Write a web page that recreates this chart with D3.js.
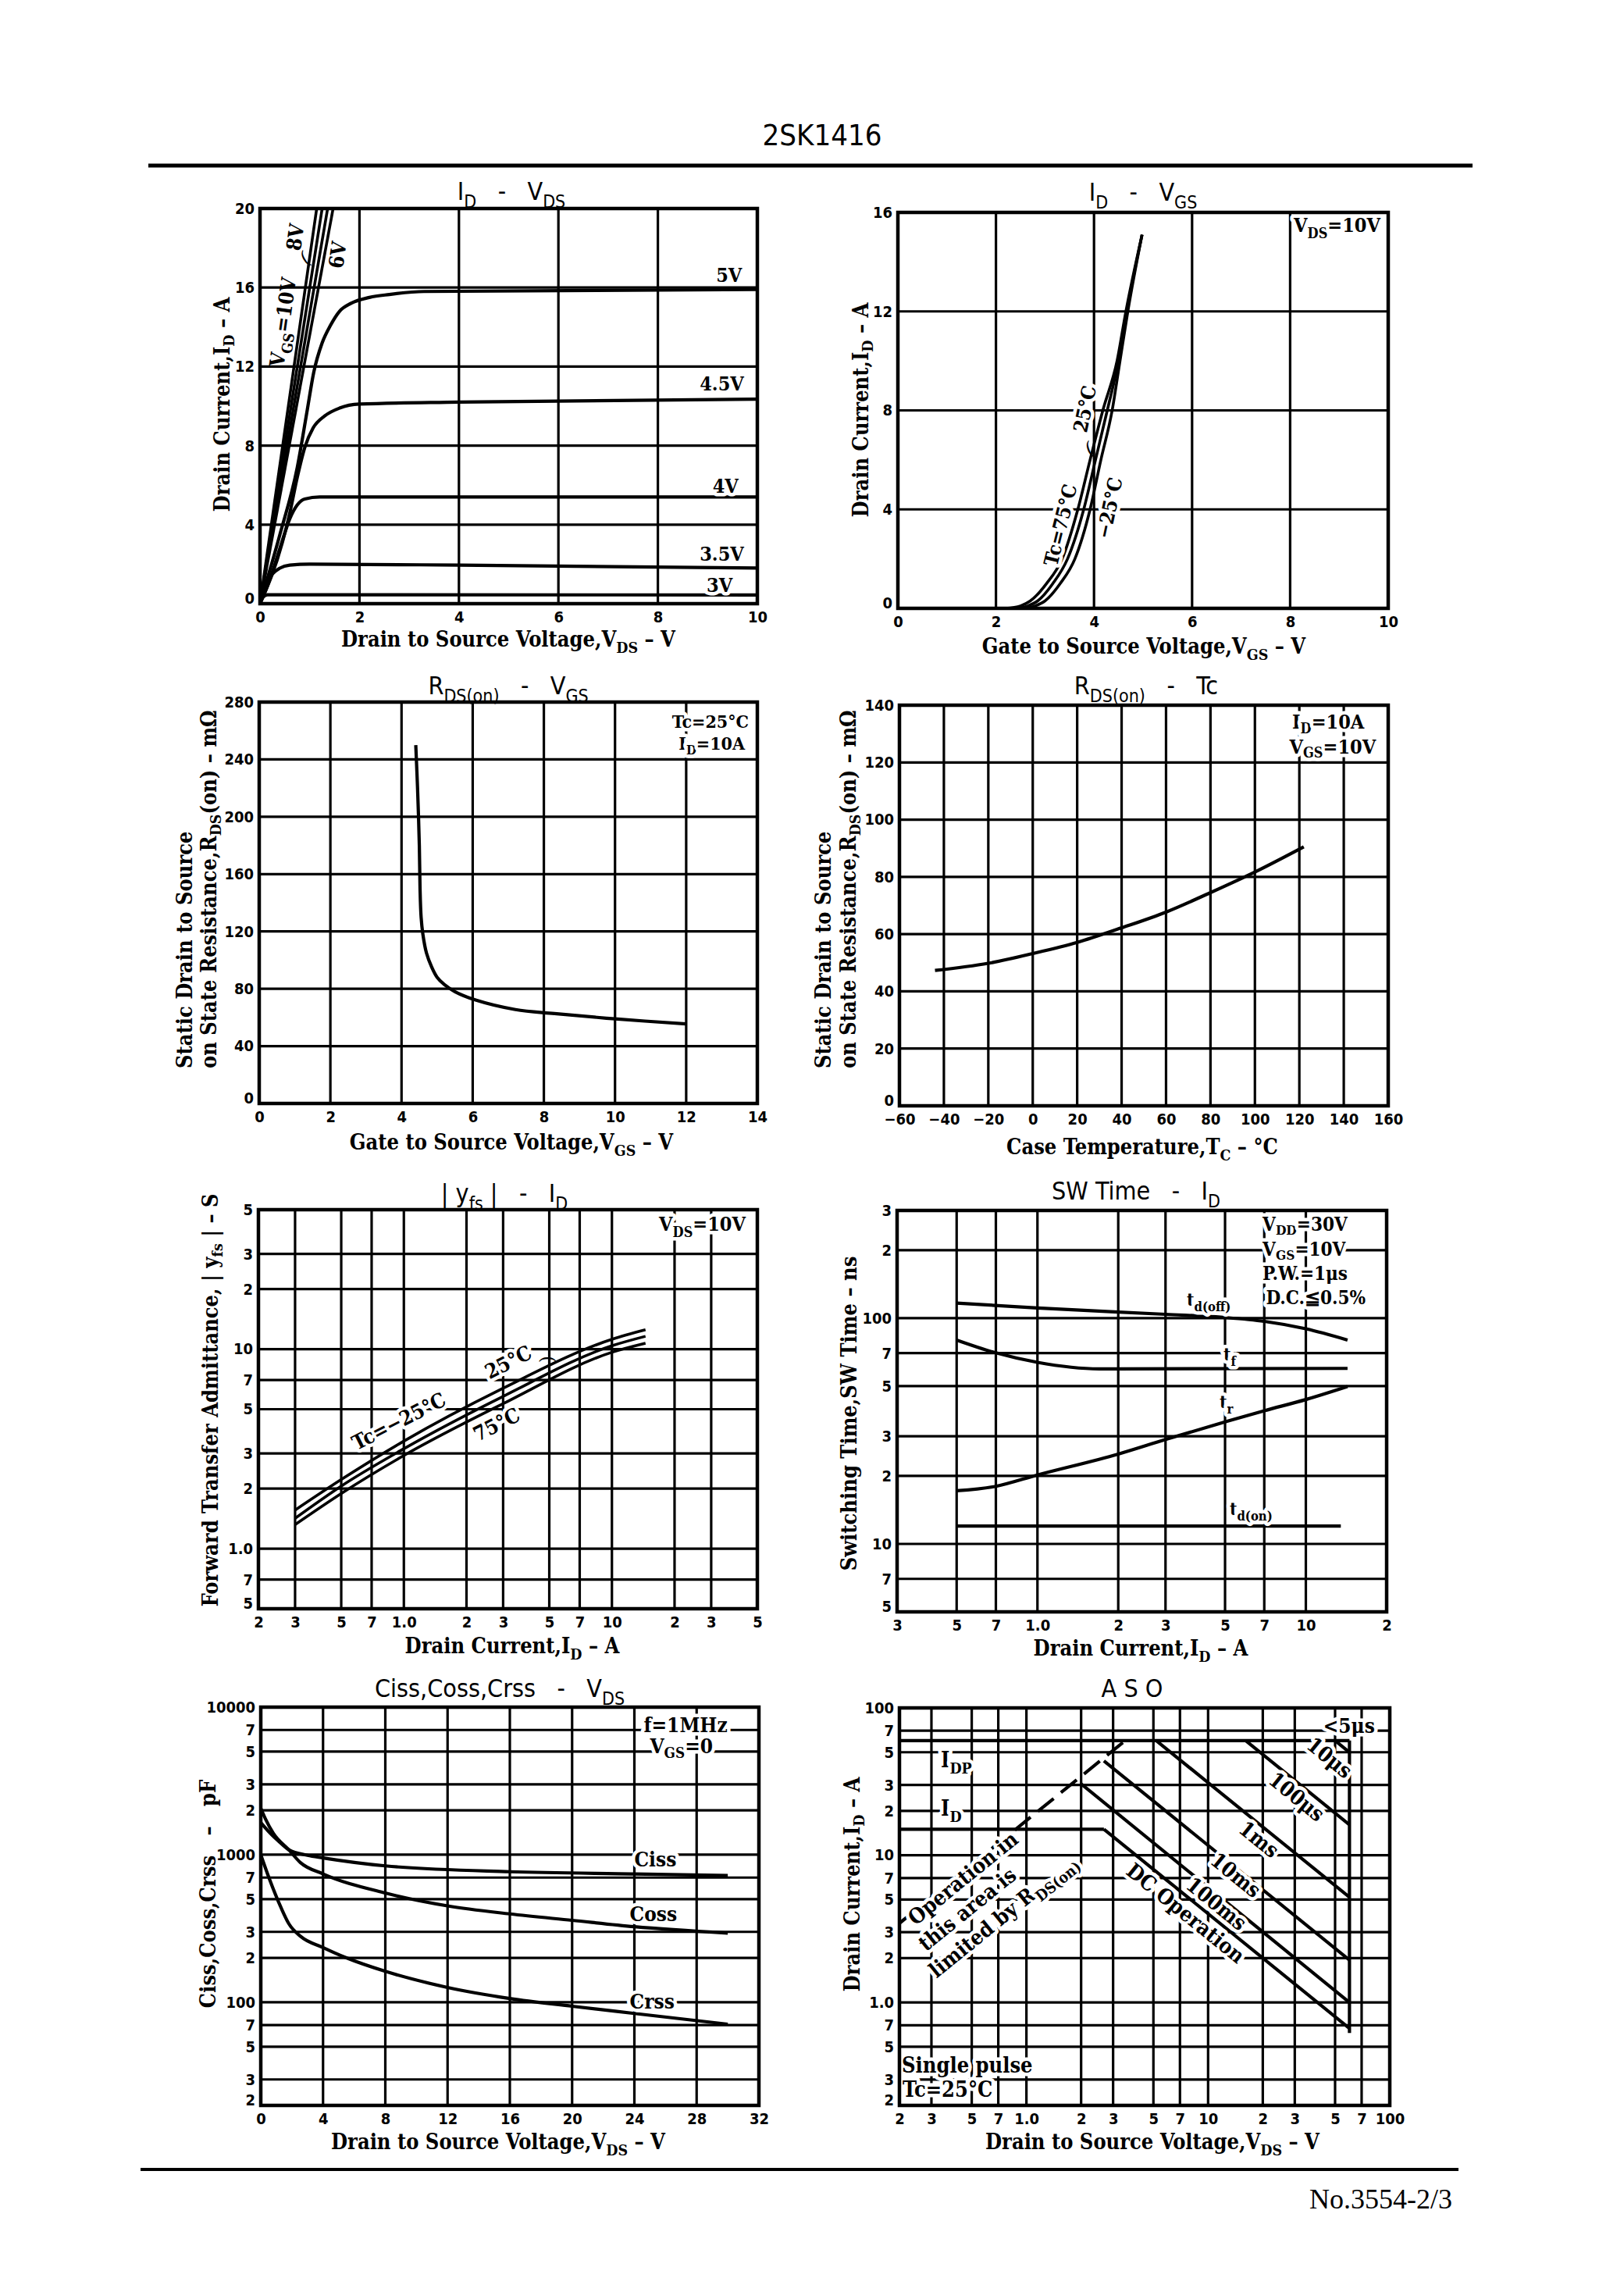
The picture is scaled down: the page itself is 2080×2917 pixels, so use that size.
<!DOCTYPE html>
<html>
<head>
<meta charset="utf-8">
<script src="https://cdn.jsdelivr.net/npm/d3@7"></script>
<style>
  body { margin: 0; background: #fff; }
  svg { display: block; }
  text { white-space: pre; }
</style>
</head>
<body>
<script>
// ---------- data ----------

// I_D - V_DS  (x: V_DS in V, y: I_D in A)
const c1XTicks = [0, 2, 4, 6, 8, 10];
const c1YTicks = [0, 4, 8, 12, 16, 20];
const vgs3V = [[0, 0], [0.05, 0.3], [0.15, 0.45], [1, 0.45], [10, 0.44]];
const vgs35V = [[0, 0], [0.1, 0.8], [0.25, 1.5], [0.4, 1.8], [0.6, 1.95], [1, 2.0], [4, 1.95], [10, 1.8]];
const vgs4V = [[0, 0], [0.15, 0.9], [0.3, 2], [0.45, 3.2], [0.6, 4.3], [0.75, 5.0], [0.9, 5.3], [1.2, 5.4], [10, 5.4]];
const vgs45V = [[0, 0], [0.45, 3.1], [0.6, 4.6], [0.75, 6.4], [0.9, 7.9], [1.07, 8.9], [1.3, 9.5], [1.6, 9.9], [2, 10.1], [4, 10.2], [10, 10.35]];
const vgs5V = [[0, 0], [0.4, 3.5], [0.75, 6.9], [0.95, 9.8], [1.08, 11.7], [1.25, 13.2], [1.42, 14.1], [1.6, 14.8], [1.83, 15.2], [2.2, 15.5], [2.6, 15.65], [3.3, 15.8], [10, 15.9]];
const vgsSteep = [
  [[0, 0], [1.14, 20]],   // 10V
  [[0, 0], [1.25, 20]],   // 8V
  [[0, 0], [1.36, 20]],
  [[0, 0], [1.47, 20]]    // 6V
];

// I_D - V_GS
const c2XTicks = [0, 2, 4, 6, 8, 10];
const c2YTicks = [0, 4, 8, 12, 16];
const tc75 = [[2.2, 0], [2.5, 0.1], [2.7, 0.3], [3.03, 1], [3.35, 2], [3.67, 4], [3.92, 6], [4.18, 8], [4.47, 10], [4.65, 12], [4.98, 15.1]];
const tc25 = [[2.4, 0], [2.65, 0.1], [2.85, 0.3], [3.16, 1], [3.46, 2], [3.79, 4], [4.03, 6], [4.27, 8], [4.5, 10], [4.67, 12], [4.98, 15.1]];
const tcM25 = [[2.6, 0], [2.8, 0.1], [3.0, 0.3], [3.31, 1], [3.61, 2], [3.92, 4], [4.14, 6], [4.37, 8], [4.53, 10], [4.69, 12], [4.98, 15.1]];

// R_DS(on) - V_GS  (mOhm)
const c3XTicks = [0, 2, 4, 6, 8, 10, 12, 14];
const c3YTicks = [0, 40, 80, 120, 160, 200, 240, 280];
const rdsVgs = [[4.4, 250], [4.45, 220], [4.5, 180], [4.52, 150], [4.55, 130], [4.6, 118], [4.7, 105], [4.85, 95], [5.0, 88], [5.2, 83], [5.5, 78], [6.1, 72], [7.2, 65.5], [8.3, 62.7], [10, 59], [12, 55.5]];

// R_DS(on) - Tc
const c4XTicks = [-60, -40, -20, 0, 20, 40, 60, 80, 100, 120, 140, 160];
const c4XLabels = ["\u221260", "\u221240", "\u221220", "0", "20", "40", "60", "80", "100", "120", "140", "160"];
const c4YTicks = [0, 20, 40, 60, 80, 100, 120, 140];
const rdsTc = [[-44, 47.3], [-20, 49.8], [0, 53.2], [20, 57.1], [40, 62.2], [60, 67.7], [80, 74.5], [100, 81.7], [122, 90.5]];

// |yfs| - I_D  (log-log)
const c5XTicks = [0.2, 0.3, 0.5, 0.7, 1, 2, 3, 5, 7, 10, 20, 30, 50];
const c5XLabels = ["2", "3", "5", "7", "1.0", "2", "3", "5", "7", "10", "2", "3", "5"];
const c5YTicks = [0.5, 0.7, 1, 2, 3, 5, 7, 10, 20, 30, 50];
const c5YLabels = ["5", "7", "1.0", "2", "3", "5", "7", "10", "2", "3", "5"];
const yfsM25 = [[0.3, 1.56], [0.5, 2.22], [1, 3.46], [3, 6.37], [10, 11.2], [14.5, 12.5]];
const yfs25 = [[0.3, 1.42], [0.5, 2.06], [1, 3.17], [3, 5.8], [10, 10.4], [14.5, 11.6]];
const yfs75 = [[0.3, 1.32], [0.5, 1.89], [1, 2.93], [3, 5.33], [10, 9.64], [14.5, 10.7]];

// SW time - I_D  (ns)
const c6XTicks = [0.3, 0.5, 0.7, 1, 2, 3, 5, 7, 10, 20];
const c6XLabels = ["3", "5", "7", "1.0", "2", "3", "5", "7", "10", "2"];
const c6YTicks = [5, 7, 10, 20, 30, 50, 70, 100, 200, 300];
const c6YLabels = ["5", "7", "10", "2", "3", "5", "7", "100", "2", "3"];
const tdOff = [[0.5, 116.6], [1, 111], [3, 104], [5, 100.7], [7, 96.8], [10, 89.7], [14.3, 80]];
const tFall = [[0.5, 80], [0.7, 70.2], [1, 63.7], [1.7, 59.6], [14.3, 59.9]];
const tRise = [[0.5, 17.2], [0.7, 18], [1, 20.2], [2, 25], [3, 29], [5, 34.7], [7, 38.9], [10, 43.6], [14.3, 49.8]];
const tdOn = [[0.5, 12], [13.5, 12]];

// Ciss, Coss, Crss - V_DS  (pF)
const c7XTicks = [0, 4, 8, 12, 16, 20, 24, 28, 32];
const c7YTicks = [20, 30, 50, 70, 100, 200, 300, 500, 700, 1000, 2000, 3000, 5000, 7000, 10000];
const c7YLabels = ["2", "3", "5", "7", "100", "2", "3", "5", "7", "1000", "2", "3", "5", "7", "10000"];
const ciss = [[0, 1650], [0.6, 1400], [1.2, 1220], [1.8, 1080], [3, 990], [4, 951], [8, 840], [16, 767], [24, 741], [30, 723]];
const coss = [[0, 2065], [0.3, 1750], [0.8, 1400], [1.8, 1080], [2.55, 883], [4, 741], [8, 550], [12, 450], [16, 397], [20, 359], [24, 325], [30, 294]];
const crss = [[0, 1000], [0.55, 687], [1.3, 438], [1.8, 341], [2.55, 280], [4, 235], [5.5, 200], [8, 162], [12, 126], [16, 106], [20, 94], [24, 84], [30, 71]];

// ASO  (log-log)
const c8Ticks = [0.2, 0.3, 0.5, 0.7, 1, 2, 3, 5, 7, 10, 20, 30, 50, 70, 100];
const c8XLabels = ["2", "3", "5", "7", "1.0", "2", "3", "5", "7", "10", "2", "3", "5", "7", "100"];
const c8YLabels = ["2", "3", "5", "7", "1.0", "2", "3", "5", "7", "10", "2", "3", "5", "7", "100"];
const asoIdp = [[0.2, 60], [60, 60]];
const asoId = [[0.2, 15], [2.67, 15]];
const asoVdss = [[60, 60], [60, 0.62]];
const asoDC = [[2.67, 15], [60, 0.667]];
const aso100ms = [[1.98, 30.8], [60, 1.0]];
const aso10ms = [[2.67, 43.7], [60, 1.94]];
const aso1ms = [[5.18, 60], [60, 5.18]];
const aso100us = [[16.1, 60], [60, 16.1]];
const aso10us = [[50, 60], [60, 50]];
const asoRds = [[0.2, 3.45], [3.5, 60]];

// ---------- drawing ----------
const SERIF = "'DejaVu Serif Condensed','DejaVu Serif',serif";
const SANS = "'DejaVu Sans Condensed','DejaVu Sans',sans-serif";

const svg = d3.select("body").append("svg").attr("width", 2080).attr("height", 2917);
svg.append("rect").attr("width", 2080).attr("height", 2917).attr("fill", "#fff");

// text with I_{D} style subscripts
function txt(parent, str, o) {
  const s = o.size || 24;
  const k = o.subShift || 0.3;
  const t = parent.append("text")
    .attr("transform", `translate(${o.x},${o.y})` + (o.rot ? ` rotate(${o.rot})` : ""))
    .attr("font-family", o.family || SERIF)
    .attr("font-size", s)
    .attr("font-weight", o.weight || "bold")
    .attr("text-anchor", o.anchor || "start")
    .attr("fill", "#000");
  if (o.halo) t.attr("stroke", "#fff").attr("stroke-width", o.halo).attr("stroke-linejoin", "round").attr("paint-order", "stroke");
  let down = 0;
  str.split(/(_\{[^}]*\})/).forEach(p => {
    if (!p) return;
    const sub = p.startsWith("_{");
    const dy = sub ? s * k - down : -down;
    down = sub ? s * k : 0;
    t.append("tspan").attr("dy", dy || null).attr("font-size", sub ? s * 0.72 : null).text(sub ? p.slice(2, -1) : p);
  });
  return t;
}

function panel(o) {
  const [l, t, r, b] = o.box;
  const x = (o.xLog ? d3.scaleLog() : d3.scaleLinear()).domain(o.xDom).range([l, r]);
  const y = (o.yLog ? d3.scaleLog() : d3.scaleLinear()).domain(o.yDom).range([b, t]);
  const g = svg.append("g");

  g.append("g").selectAll("line").data(o.xGrid).join("line")
    .attr("x1", d => x(d)).attr("x2", d => x(d)).attr("y1", t).attr("y2", b)
    .attr("stroke", "#000").attr("stroke-width", 3.2);
  g.append("g").selectAll("line").data(o.yGrid).join("line")
    .attr("x1", l).attr("x2", r).attr("y1", d => y(d)).attr("y2", d => y(d))
    .attr("stroke", "#000").attr("stroke-width", 3.2);

  const curves = g.append("g");
  const notes = g.append("g");

  g.append("rect").attr("x", l).attr("y", t).attr("width", r - l).attr("height", b - t)
    .attr("fill", "none").attr("stroke", "#000").attr("stroke-width", 4.5);

  const ax = g.append("g").attr("transform", `translate(0,${b})`)
    .call(d3.axisBottom(x).tickValues(o.xTicks).tickFormat((d, i) => o.xLabels ? o.xLabels[i] : d).tickSize(0).tickPadding(10));
  const ay = g.append("g").attr("transform", `translate(${l},0)`)
    .call(d3.axisLeft(y).tickValues(o.yTicks).tickFormat((d, i) => o.yLabels ? o.yLabels[i] : d).tickSize(0).tickPadding(7));
  [ax, ay].forEach(a => {
    a.select(".domain").remove();
    a.selectAll("text").attr("font-family", SANS).attr("font-weight", "bold").attr("font-size", 20).attr("fill", "#000");
  });
  // the bottom y label sits a little above the corner on the sheet
  ay.selectAll(".tick text").filter((d, i) => i === 0).attr("dy", "-0.05em");

  txt(svg, o.title, {x: o.titleAt[0], y: o.titleAt[1], family: SANS, weight: "normal", size: 32, anchor: "middle"});
  txt(svg, o.xTitle, {x: o.xTitleAt[0], y: o.xTitleAt[1], size: 27, anchor: "middle"});
  o.yTitles.forEach(yt => txt(svg, yt.s, {x: yt.x, y: yt.y, size: 27, rot: -90, anchor: yt.anchor || "middle", subShift: 0.22}));

  return {x, y, curves, notes};
}

function curve(p, data, opt = {}) {
  const line = d3.line().x(d => p.x(d[0])).y(d => p.y(d[1])).curve(opt.curve || d3.curveMonotoneX);
  p.curves.append("path").attr("d", line(data))
    .attr("fill", "none").attr("stroke", "#000").attr("stroke-width", opt.w || 4.2)
    .attr("stroke-linejoin", "round").attr("stroke-linecap", "butt")
    .attr("stroke-dasharray", opt.dash || null);
}

function note(p, str, xv, yv, o = {}) {
  return txt(p.notes, str, Object.assign({x: p.x(xv), y: p.y(yv), size: 25, halo: 9}, o));
}

// header / footer
txt(svg, "2SK1416", {x: 1053, y: 186, family: SANS, weight: "normal", size: 38, anchor: "middle"});
svg.append("line").attr("x1", 190).attr("x2", 1886).attr("y1", 212).attr("y2", 212).attr("stroke", "#000").attr("stroke-width", 5);
svg.append("line").attr("x1", 180).attr("x2", 1868).attr("y1", 2778).attr("y2", 2778).attr("stroke", "#000").attr("stroke-width", 4);
txt(svg, "No.3554-2/3", {x: 1860, y: 2828, family: "'Liberation Serif',serif", weight: "normal", size: 36, anchor: "end"});

// 1. I_D - V_DS
const p1 = panel({
  box: [333, 267, 970, 773], xDom: [0, 10], yDom: [0, 20],
  xGrid: [2, 4, 6, 8], yGrid: [4, 8, 12, 16], xTicks: c1XTicks, yTicks: c1YTicks,
  title: "I_{D}   -   V_{DS}", titleAt: [655, 256],
  xTitle: "Drain to Source Voltage,V_{DS} \u2013 V", xTitleAt: [651, 828],
  yTitles: [{s: "Drain Current,I_{D} \u2013 A", x: 294, y: 518}]
});
[vgs3V, vgs35V, vgs4V, vgs45V, vgs5V].forEach(d => curve(p1, d));
vgsSteep.forEach(d => curve(p1, d, {curve: d3.curveLinear, w: 3.6}));
note(p1, "5V", 9.69, 16.3, {anchor: "end"});
note(p1, "4.5V", 9.73, 10.8, {anchor: "end"});
note(p1, "4V", 9.62, 5.6, {anchor: "end"});
note(p1, "3.5V", 9.73, 2.17, {anchor: "end"});
note(p1, "3V", 9.5, 0.61, {anchor: "end"});
note(p1, "V_{GS}=10V", 0.6, 14.2, {anchor: "middle", rot: -82, halo: 0, size: 26});
note(p1, "8V", 0.85, 18.5, {anchor: "middle", rot: -82, halo: 0, size: 26});
note(p1, "(", 0.97, 17.2, {anchor: "middle", rot: -30, halo: 0, weight: "normal"});
note(p1, "6V", 1.7, 17.6, {anchor: "middle", rot: -82, halo: 0, size: 26});

// 2. I_D - V_GS
const p2 = panel({
  box: [1150, 272, 1778, 779], xDom: [0, 10], yDom: [0, 16],
  xGrid: [2, 4, 6, 8], yGrid: [4, 8, 12], xTicks: c2XTicks, yTicks: c2YTicks,
  title: "I_{D}   -   V_{GS}", titleAt: [1464, 257],
  xTitle: "Gate to Source Voltage,V_{GS} \u2013 V", xTitleAt: [1465, 837],
  yTitles: [{s: "Drain Current,I_{D} \u2013 A", x: 1112, y: 525}]
});
[tc75, tc25, tcM25].forEach(d => curve(p2, d, {w: 3.6}));
note(p2, "V_{DS}=10V", 9.84, 15.2, {anchor: "end"});
note(p2, "Tc=75\u00b0C", 3.45, 3.3, {anchor: "middle", rot: -76});
note(p2, "25\u00b0C", 3.95, 8.0, {anchor: "middle", rot: -78});
note(p2, "(", 3.95, 6.2, {anchor: "middle", rot: -20, weight: "normal", halo: 0});
note(p2, "\u221225\u00b0C", 4.45, 4.0, {anchor: "middle", rot: -78});

// 3. R_DS(on) - V_GS
const p3 = panel({
  box: [332, 899, 970, 1413], xDom: [0, 14], yDom: [0, 280],
  xGrid: [2, 4, 6, 8, 10, 12], yGrid: [40, 80, 120, 160, 200, 240], xTicks: c3XTicks, yTicks: c3YTicks,
  title: "R_{DS(on)}   -   V_{GS}", titleAt: [651, 889],
  xTitle: "Gate to Source Voltage,V_{GS} \u2013 V", xTitleAt: [655, 1472],
  yTitles: [{s: "Static Drain to Source", x: 246, y: 1368, anchor: "start"},
            {s: "on State Resistance,R_{DS}(on) \u2013 m\u03a9", x: 277, y: 1368, anchor: "start"}]
});
curve(p3, rdsVgs, {curve: d3.curveCatmullRom});
note(p3, "Tc=25\u00b0C", 13.76, 262, {anchor: "end", size: 23});
note(p3, "I_{D}=10A", 13.65, 246.5, {anchor: "end", size: 23, subShift: 0.22});

// 4. R_DS(on) - Tc
const p4 = panel({
  box: [1152, 903, 1778, 1416], xDom: [-60, 160], yDom: [0, 140],
  xGrid: [-40, -20, 0, 20, 40, 60, 80, 100, 120, 140], yGrid: [20, 40, 60, 80, 100, 120],
  xTicks: c4XTicks, xLabels: c4XLabels, yTicks: c4YTicks,
  title: "R_{DS(on)}   -   Tc", titleAt: [1468, 889],
  xTitle: "Case Temperature,T_{C} \u2013 \u00b0C", xTitleAt: [1463, 1478],
  yTitles: [{s: "Static Drain to Source", x: 1064, y: 1368, anchor: "start"},
            {s: "on State Resistance,R_{DS}(on) \u2013 m\u03a9", x: 1096, y: 1368, anchor: "start"}]
});
curve(p4, rdsTc);
note(p4, "I_{D}=10A", 133, 131.8, {anchor: "middle", subShift: 0.22});
note(p4, "V_{GS}=10V", 135, 123.2, {anchor: "middle", subShift: 0.22});

// 5. |yfs| - I_D
const p5 = panel({
  box: [331, 1549, 970, 2060], xLog: true, yLog: true, xDom: [0.2, 50], yDom: [0.5, 50],
  xGrid: [0.3, 0.5, 0.7, 1, 2, 3, 5, 7, 10, 20, 30], yGrid: [0.7, 1, 2, 3, 5, 7, 10, 20, 30],
  xTicks: c5XTicks, xLabels: c5XLabels, yTicks: c5YTicks, yLabels: c5YLabels,
  title: "| y_{fs} |   -   I_{D}", titleAt: [646, 1539],
  xTitle: "Drain Current,I_{D} \u2013 A", xTitleAt: [656, 2117],
  yTitles: [{s: "Forward Transfer Admittance, | y_{fs} | \u2013 S", x: 279, y: 1793}]
});
[yfsM25, yfs25, yfs75].forEach(d => curve(p5, d, {w: 3.6}));
note(p5, "V_{DS}=10V", 43.9, 39.2, {anchor: "end"});
note(p5, "Tc=\u221225\u00b0C", 0.98, 4.05, {anchor: "middle", rot: -27, size: 26});
note(p5, "25\u00b0C", 3.29, 8.0, {anchor: "middle", rot: -27, size: 26});
note(p5, "(", 4.6, 8.9, {anchor: "middle", rot: 90, weight: "normal", halo: 0});
note(p5, "75\u00b0C", 2.89, 3.9, {anchor: "middle", rot: -27, size: 26});

// 6. SW time - I_D
const p6 = panel({
  box: [1149, 1550, 1776, 2064], xLog: true, yLog: true, xDom: [0.3, 20], yDom: [5, 300],
  xGrid: [0.5, 0.7, 1, 2, 3, 5, 7, 10], yGrid: [7, 10, 20, 30, 50, 70, 100, 200],
  xTicks: c6XTicks, xLabels: c6XLabels, yTicks: c6YTicks, yLabels: c6YLabels,
  title: "SW Time   -   I_{D}", titleAt: [1455, 1536],
  xTitle: "Drain Current,I_{D} \u2013 A", xTitleAt: [1461, 2120],
  yTitles: [{s: "Switching Time,SW Time \u2013 ns", x: 1097, y: 1810}]
});
[tdOff, tFall, tRise].forEach(d => curve(p6, d));
curve(p6, tdOn, {curve: d3.curveLinear});
note(p6, "V_{DD}=30V", 6.9, 243, {size: 24, subShift: 0.2});
note(p6, "V_{GS}=10V", 6.9, 189, {size: 24, subShift: 0.2});
note(p6, "P.W.=1\u03bcs", 6.9, 148, {size: 24});
note(p6, "D.C.\u22660.5%", 7.1, 115, {size: 24});
note(p6, "t_{d(off)}", 3.6, 113.5, {size: 23});
note(p6, "t_{f}", 4.93, 65, {size: 23});
note(p6, "t_{r}", 4.77, 40, {size: 23});
note(p6, "t_{d(on)}", 5.2, 13.4, {size: 23});

// 7. Capacitances - V_DS
const p7 = panel({
  box: [334, 2186, 972, 2696], yLog: true, xDom: [0, 32], yDom: [20, 10000],
  xGrid: [4, 8, 12, 16, 20, 24, 28], yGrid: [30, 50, 70, 100, 200, 300, 500, 700, 1000, 2000, 3000, 5000, 7000],
  xTicks: c7XTicks, yTicks: c7YTicks, yLabels: c7YLabels,
  title: "Ciss,Coss,Crss   -   V_{DS}", titleAt: [640, 2173],
  xTitle: "Drain to Source Voltage,V_{DS} \u2013 V", xTitleAt: [638, 2752],
  yTitles: [{s: "Ciss,Coss,Crss   \u2013   pF", x: 276, y: 2425}]
});
[ciss, coss, crss].forEach(d => curve(p7, d));
note(p7, "f=1MHz", 24.6, 6760, {size: 26});
note(p7, "V_{GS}=0", 25, 4865, {size: 26, subShift: 0.22});
note(p7, "Ciss", 24, 832, {size: 26});
note(p7, "Coss", 23.7, 354, {size: 26});
note(p7, "Crss", 23.7, 90.6, {size: 26});

// 8. ASO
const p8 = panel({
  box: [1152, 2187, 1780, 2696], xLog: true, yLog: true, xDom: [0.2, 100], yDom: [0.2, 100],
  xGrid: c8Ticks.slice(1, -1), yGrid: c8Ticks.slice(1, -1),
  xTicks: c8Ticks, xLabels: c8XLabels, yTicks: c8Ticks, yLabels: c8YLabels,
  title: "A S O", titleAt: [1450, 2173],
  xTitle: "Drain to Source Voltage,V_{DS} \u2013 V", xTitleAt: [1476, 2752],
  yTitles: [{s: "Drain Current,I_{D} \u2013 A", x: 1101, y: 2413}]
});
[asoIdp, asoId, asoVdss, asoDC, aso100ms, aso10ms, aso1ms, aso100us, aso10us]
  .forEach(d => curve(p8, d, {curve: d3.curveLinear}));
curve(p8, asoRds, {curve: d3.curveLinear, dash: "26 12"});
note(p8, "<5\u03bcs", 43, 68, {size: 26});
note(p8, "I_{DP}", 0.338, 39.5, {size: 27});
note(p8, "I_{D}", 0.338, 18.5, {size: 27});
note(p8, "10\u03bcs", 44, 42, {anchor: "middle", rot: 39, size: 27});
note(p8, "100\u03bcs", 29, 22.8, {anchor: "middle", rot: 39, size: 27});
note(p8, "1ms", 18, 11.7, {anchor: "middle", rot: 39, size: 27});
note(p8, "10ms", 13.4, 6.7, {anchor: "middle", rot: 39, size: 27});
note(p8, "100ms", 10.5, 4.28, {anchor: "middle", rot: 39, size: 27});
note(p8, "DC Operation", 7.1, 3.7, {anchor: "middle", rot: 39, size: 27});
note(p8, "Operation in", 0.245, 3.3, {rot: -39, size: 27});
note(p8, "this area is", 0.28, 2.2, {rot: -39, size: 27});
note(p8, "limited by R_{DS(on)}", 0.32, 1.45, {rot: -39, size: 27});
note(p8, "Single pulse", 0.206, 0.334, {size: 27});
note(p8, "Tc=25\u00b0C", 0.208, 0.229, {size: 27});
</script>
</body>
</html>
